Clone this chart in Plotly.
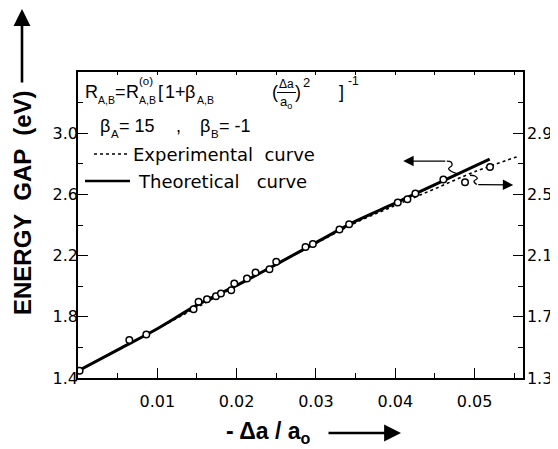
import plotly.graph_objects as go

# ---- data (left-axis units, eV) ----
exp_pts_x = [0.0002, 0.00647, 0.00861, 0.01457, 0.0152, 0.01626, 0.01739, 0.01802,
             0.01932, 0.0197, 0.0213, 0.02238, 0.02414, 0.02499, 0.02868, 0.02961,
             0.03296, 0.03418, 0.04031, 0.04153, 0.04253, 0.04606, 0.04879, 0.05194]
exp_pts_y = [1.448, 1.648, 1.685, 1.850, 1.898, 1.914, 1.935, 1.953,
             1.974, 2.018, 2.051, 2.090, 2.111, 2.159, 2.257, 2.275,
             2.371, 2.405, 2.547, 2.568, 2.606, 2.697, 2.679, 2.779]

theo_x = [0.0, 0.005, 0.010, 0.015, 0.020, 0.025, 0.030, 0.035, 0.040, 0.045, 0.0519]
theo_y = [1.446, 1.584, 1.722, 1.876, 2.005, 2.143, 2.285, 2.425, 2.543, 2.664, 2.830]

expc_x = [0.0, 0.010, 0.020, 0.030, 0.035, 0.040, 0.045, 0.050, 0.0553]
expc_y = [1.446, 1.722, 2.002, 2.280, 2.415, 2.528, 2.637, 2.748, 2.845]

x_ticks = [0.01, 0.02, 0.03, 0.04, 0.05]
x_ticktext = ["0.01", "0.02", "0.03", "0.04", "0.05"]
x_minor = [0.005, 0.015, 0.025, 0.035, 0.045, 0.055]
yl_ticks = [1.4, 1.8, 2.2, 2.6, 3.0]
yl_minor = [1.6, 2.0, 2.4, 2.8, 3.2]
yr_ticks = [1.3, 1.7, 2.1, 2.5, 2.9]
yr_minor = [1.5, 1.9, 2.3, 2.7, 3.1]

# pointer squiggles (data units)
sq_left_x = [0.04649, 0.04703, 0.04715, 0.04671, 0.04703, 0.04775]
sq_left_y = [2.818, 2.812, 2.790, 2.769, 2.751, 2.736]
sq_right_x = [0.04942, 0.05005, 0.05034, 0.04992, 0.05026]
sq_right_y = [2.725, 2.720, 2.704, 2.686, 2.664]

FONT = "DejaVu Sans"
SFONT = "Liberation Sans"
BFONT = "Liberation Sans"
W, H = 558, 449
OFF = 8  # page body margin
# target plot box in window pixels
PL, PT, PR, PB = 78, 72, 523, 378
PW, PH = PR - PL, PB - PT

def px(xp):
    return (xp - PL) / PW

def py(yp):
    return (PB - yp) / PH

fig = go.Figure()

fig.add_trace(go.Scatter(x=expc_x, y=expc_y, mode="lines",
                         line=dict(color="black", width=1.6, dash="dot", shape="spline"),
                         hoverinfo="skip", showlegend=False))
fig.add_trace(go.Scatter(x=theo_x, y=theo_y, mode="lines",
                         line=dict(color="black", width=3, shape="spline"),
                         hoverinfo="skip", showlegend=False))
fig.add_trace(go.Scatter(x=exp_pts_x, y=exp_pts_y, mode="markers",
                         marker=dict(symbol="circle", size=6.5, color="white",
                                     line=dict(color="black", width=1.5)),
                         showlegend=False))
for sx, sy in [(sq_left_x, sq_left_y), (sq_right_x, sq_right_y)]:
    fig.add_trace(go.Scatter(x=sx, y=sy, mode="lines",
                             line=dict(color="black", width=1.3, shape="spline"),
                             hoverinfo="skip", showlegend=False))
# dummy trace to activate secondary axes
fig.add_trace(go.Scatter(x=[None], y=[None], xaxis="x2", yaxis="y2", showlegend=False))

# pointer arrows
fig.add_annotation(x=0.0410, y=2.818, ax=sq_left_x[0], ay=sq_left_y[0],
                   axref="x", ayref="y", xref="x", yref="y", text="",
                   showarrow=True, arrowhead=2, arrowsize=1.6, arrowwidth=1.3,
                   arrowcolor="black")
fig.add_annotation(x=0.05487, y=2.662, ax=sq_right_x[-1], ay=sq_right_y[-1],
                   axref="x", ayref="y", xref="x", yref="y", text="",
                   showarrow=True, arrowhead=2, arrowsize=1.6, arrowwidth=1.3,
                   arrowcolor="black")

axis_common = dict(showline=True, linecolor="black", linewidth=1.5, showgrid=False,
                   zeroline=False, ticks="inside", tickcolor="black", tickwidth=1.3,
                   automargin=False,
                   tickfont=dict(family=FONT, size=16, color="black"))

fig.update_layout(
    width=W, height=H,
    margin=dict(l=PL - OFF, r=W - (PR - OFF), t=PT - OFF, b=H - (PB - OFF), autoexpand=False),
    paper_bgcolor="white", plot_bgcolor="white",
    font=dict(family=FONT, color="black"),
    xaxis=dict(range=[0, 0.0561], tickvals=x_ticks, ticktext=x_ticktext, ticklen=10,
               ticklabelstandoff=8,
               minor=dict(ticks="inside", ticklen=5, tickvals=x_minor, tickcolor="black",
                          tickwidth=1.2),
               **axis_common),
    yaxis=dict(range=[1.4, 3.4], tickvals=yl_ticks, ticktext=[f"{v:.1f}" for v in yl_ticks],
               ticklen=10, ticklabelstandoff=-5,
               minor=dict(ticks="inside", ticklen=5, tickvals=yl_minor, tickcolor="black",
                          tickwidth=1.2),
               **axis_common),
    xaxis2=dict(range=[0, 0.0561], overlaying="x", side="top", anchor="y",
                showline=True, linecolor="black", linewidth=1.5, showgrid=False,
                zeroline=False, ticks="inside", ticklen=3, tickcolor="black",
                automargin=False,
                tickvals=x_ticks + x_minor, showticklabels=False),
    yaxis2=dict(range=[1.3, 3.3], overlaying="y", side="right", anchor="x2",
                tickvals=yr_ticks, ticktext=[f"{v:.1f}" for v in yr_ticks],
                ticklen=10, ticklabelstandoff=-1,
                minor=dict(ticks="inside", ticklen=5, tickvals=yr_minor, tickcolor="black",
                           tickwidth=1.2),
                **axis_common),
)

def txt(x, y, s, size, xanchor="left", yanchor="middle", bold=False, angle=0, family=FONT):
    fig.add_annotation(x=px(x), y=py(y), xref="paper", yref="paper", text=s,
                       showarrow=False, xanchor=xanchor, yanchor=yanchor, textangle=angle,
                       borderpad=0,
                       font=dict(family=family, size=size, color="black",
                                 weight="bold" if bold else "normal"))

# axis titles
txt(22, 203, "ENERGY  GAP  (eV)", 24, xanchor="center", bold=True, angle=-90, family=BFONT)
fig.add_annotation(x=px(22), y=py(6), xref="paper", yref="paper", ax=0, ay=78,
                   text="", showarrow=True, arrowhead=2, arrowsize=1.3, arrowwidth=2.6,
                   arrowcolor="black")
txt(268, 432, "- \u0394a / a<sub>o</sub>", 23, xanchor="center", bold=True, family=BFONT)
fig.add_annotation(x=px(401), y=py(433), xref="paper", yref="paper", ax=-74, ay=0,
                   text="", showarrow=True, arrowhead=2, arrowsize=1.3, arrowwidth=2.6,
                   arrowcolor="black")

# formula line 1 (placed piecewise)
MF = SFONT
MAIN, SUB = 18, 10.5
YB, YSUB, YSUP = 92, 100, 81
C = "center"
txt(91.5, YB, "R", MAIN, xanchor=C, family=MF)
txt(96.5, YSUB, "A,B", SUB, family=SFONT)
txt(120, YB, "=", MAIN, xanchor=C, family=MF)
txt(132, YB, "R", MAIN, xanchor=C, family=MF)
txt(138, YSUP, "(o)", SUB + 1, family=SFONT)
txt(138, YSUB, "A,B", SUB, family=SFONT)
txt(160, YB, "[", MAIN, xanchor=C, family=MF)
txt(175, YB, "1+", MAIN, xanchor=C, family=MF)
txt(190, YB, "\u03b2", MAIN, xanchor=C, family=MF)
txt(196, YSUB, "A,B", SUB, family=SFONT)
txt(275, YB, "(", MAIN, xanchor=C, family=MF)
txt(286, 84, "\u0394a", 12, xanchor=C, family=MF)
txt(286, 102, "a<sub>o</sub>", 13, xanchor=C, family=MF)
fig.add_shape(type="line", xref="paper", yref="paper", x0=px(277), x1=px(296),
              y0=py(92.5), y1=py(92.5), line=dict(color="black", width=1))
txt(298, YB, ")", MAIN, xanchor=C, family=MF)
txt(302, YSUP + 1, "2", 13, family=SFONT)
txt(341, YB, "]", MAIN, xanchor=C, family=MF)
txt(347, YSUP, "-1", 12, family=SFONT)
# formula line 2
Y2 = 126
txt(105, Y2, "\u03b2", MAIN, xanchor=C, family=MF)
txt(110, Y2 + 8, "A", SUB + 1, family=SFONT)
txt(118, Y2, "= 15", MAIN, family=MF)
txt(175, Y2, ",", MAIN, family=MF)
txt(205, Y2, "\u03b2", MAIN, xanchor=C, family=MF)
txt(210, Y2 + 8, "B", SUB + 1, family=SFONT)
txt(218, Y2, "= -1", MAIN, family=MF)
# legend
fig.add_shape(type="line", xref="paper", yref="paper", x0=px(94), x1=px(128),
              y0=py(154), y1=py(154), line=dict(color="black", width=1.5, dash="dot"))
txt(132, 154, "Experimental  curve", 18)
fig.add_shape(type="line", xref="paper", yref="paper", x0=px(85), x1=px(130),
              y0=py(181), y1=py(181), line=dict(color="black", width=2.5))
txt(137, 181, "Theoretical   curve", 18)

fig.write_html("out.html")
